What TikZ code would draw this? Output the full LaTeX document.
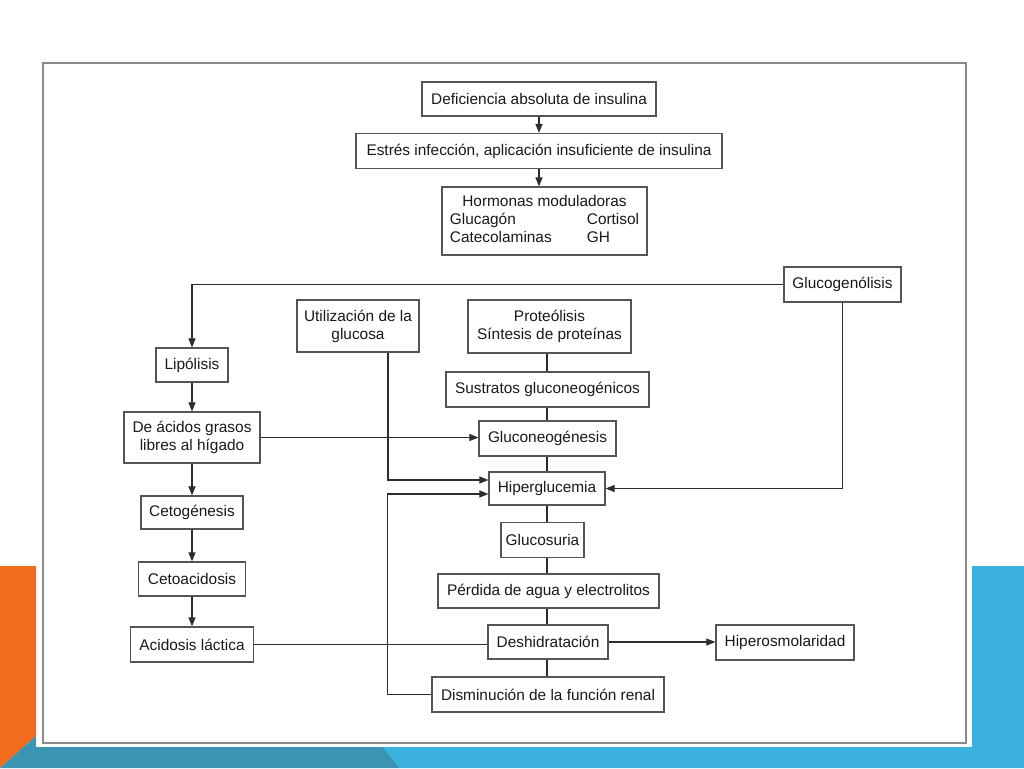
\documentclass[tikz,border=0pt]{standalone}
\usepackage{fontspec}
\setmainfont{Liberation Sans}
\usetikzlibrary{arrows.meta}
\definecolor{orangeband}{RGB}{242,108,30}
\definecolor{tealband}{RGB}{58,148,178}
\definecolor{blueband}{RGB}{59,178,222}
\definecolor{boxline}{RGB}{85,85,85}
\definecolor{conline}{RGB}{45,45,45}
\definecolor{panelline}{RGB}{138,138,138}
\definecolor{txt}{RGB}{25,25,25}
\tikzset{
  box/.style={draw=boxline, line width=1.2pt, fill=white, inner sep=0pt, align=center,
    text=txt, font=\fontsize{15.4}{18}\selectfont},
  arr/.style={draw=conline, line width=1.1pt, -{Triangle[length=9pt,width=7pt]}},
  con/.style={draw=conline, line width=1.1pt}
}
\begin{document}
\begin{tikzpicture}[x=1pt,y=-1pt]
\useasboundingbox (0,0) rectangle (1024,768);
% slide decoration
\fill[orangeband] (0,566) -- (36,566) -- (36,736) -- (0,768) -- cycle;
\fill[tealband] (0,768) -- (36,736) -- (36,747) -- (383,747) -- (400,768) -- cycle;
\fill[blueband] (383,747) -- (972,747) -- (972,566) -- (1024,566) -- (1024,768) -- (400,768) -- cycle;
% panel
\draw[panelline, line width=2pt, fill=white] (43,63) rectangle (966,743);

% nodes
\node[box, minimum width=234pt, minimum height=34pt] (def) at (539,99) {Deficiencia absoluta de insulina};
\node[box, minimum width=366pt, minimum height=35pt] (est) at (539,151) {Estrés infección, aplicación insuficiente de insulina};
\node[box, minimum width=205pt, minimum height=68pt] (horm) at (544.5,221)
  {\begin{tabular}{@{}p{137pt}@{}l@{}}\multicolumn{2}{c}{Hormonas moduladoras}\\ Glucagón & Cortisol\\ Catecolaminas & GH\end{tabular}};
\node[box, minimum width=117pt, minimum height=35pt] (gluco) at (842.5,284.5) {Glucogenólisis};
\node[box, minimum width=72pt, minimum height=34pt] (lip) at (192,365) {Lipólisis};
\node[box, minimum width=136pt, minimum height=51pt] (acid) at (192,437.5) {De ácidos grasos\\libres al hígado};
\node[box, minimum width=122pt, minimum height=52pt] (util) at (358,326) {Utilización de la\\glucosa};
\node[box, minimum width=163pt, minimum height=53pt] (prot) at (549.5,326.5) {Proteólisis\\Síntesis de proteínas};
\node[box, minimum width=203pt, minimum height=35pt] (sus) at (547.5,389.5) {Sustratos gluconeogénicos};
\node[box, minimum width=137pt, minimum height=35pt] (gneo) at (547.5,438.5) {Gluconeogénesis};
\node[box, minimum width=116pt, minimum height=33pt] (hiper) at (547,488.5) {Hiperglucemia};
\node[box, minimum width=83pt, minimum height=35pt] (gsur) at (542.5,540) {Glucosuria};
\node[box, minimum width=221pt, minimum height=34pt] (perd) at (548.5,591) {Pérdida de agua y electrolitos};
\node[box, minimum width=120pt, minimum height=34pt] (desh) at (548,642) {Deshidratación};
\node[box, minimum width=232pt, minimum height=35pt] (dism) at (548,694.5) {Disminución de la función renal};
\node[box, minimum width=138pt, minimum height=35pt] (hos) at (785,642.5) {Hiperosmolaridad};
\node[box, minimum width=102pt, minimum height=33pt] (cetg) at (192,512.5) {Cetogénesis};
\node[box, minimum width=107pt, minimum height=34pt] (ceta) at (192,579) {Cetoacidosis};
\node[box, minimum width=123pt, minimum height=35pt] (lac) at (192,644.5) {Acidosis láctica};

% connectors
\draw[arr] (def) -- (est);
\draw[arr] (est) -- (est |- horm.north);
\draw[arr] (gluco.west) -| (lip.north);
\draw[arr] (gluco.south) |- (hiper.east);
\draw[arr] (lip) -- (acid);
\draw[arr] (acid) -- (cetg);
\draw[arr] (cetg) -- (ceta);
\draw[arr] (ceta) -- (lac);
\draw[arr] (acid.east) -- (acid.east -| gneo.west);
\draw[arr] ([xshift=30pt]util.south) |- ([yshift=8.5pt]hiper.west);
\draw[arr] (dism.west) -- ([xshift=-44pt]dism.west) |- ([yshift=-5.5pt]hiper.west);
\draw[con] (lac.east) -- (lac.east -| desh.west);
\draw[arr] (desh.east) -- (desh.east -| hos.west);
\draw[con] (prot.south -| hiper) -- (sus.north -| hiper);
\draw[con] (sus.south -| hiper) -- (gneo.north -| hiper);
\draw[con] (gneo.south -| hiper) -- (hiper.north);
\draw[con] (hiper.south) -- (gsur.north -| hiper);
\draw[con] (gsur.south -| hiper) -- (perd.north -| hiper);
\draw[con] (perd.south -| hiper) -- (desh.north -| hiper);
\draw[con] (desh.south -| hiper) -- (dism.north -| hiper);
\end{tikzpicture}
\end{document}
